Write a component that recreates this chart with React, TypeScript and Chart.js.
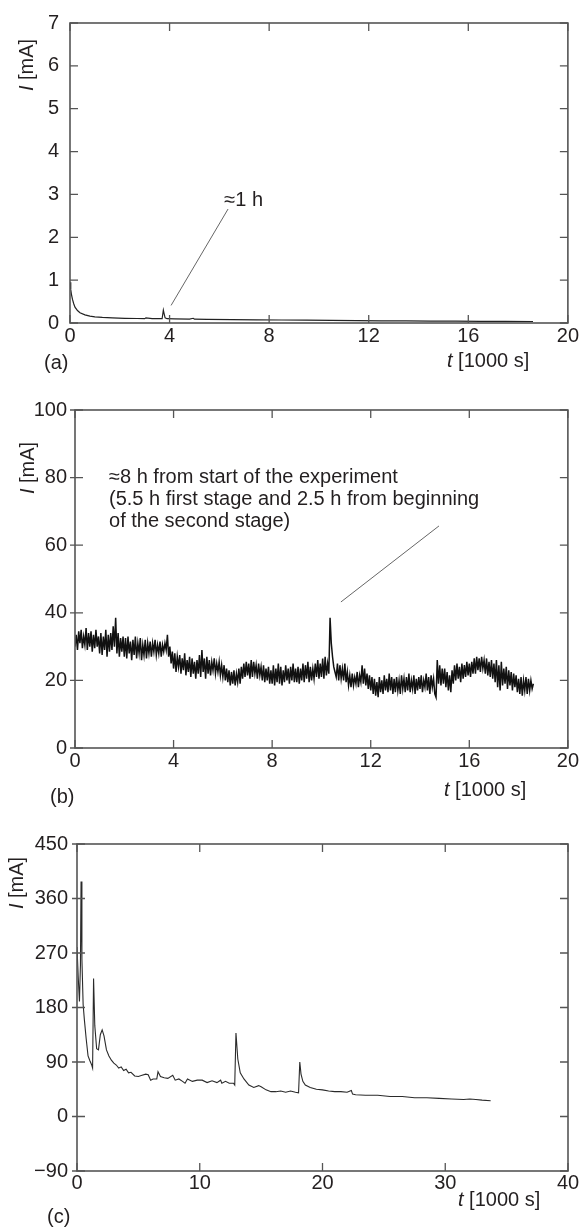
import React, { useEffect, useRef } from 'react';
import { Chart, registerables } from 'chart.js';

Chart.register(...registerables);

const FONT = '"Liberation Sans", Arial, Helvetica, sans-serif';
const FONT_SIZE = 20;
const INK = '#231f20';
const FRAME = '#555555';

// ---------- Panel (a) ----------
const A_TIME = [0, 0.03, 0.06, 0.1, 0.15, 0.2, 0.3, 0.4, 0.6, 0.8, 1.0, 1.3, 1.7, 2.2, 2.7, 3.0, 3.05, 3.3, 3.7, 3.75, 3.78, 3.82, 3.9, 4.2, 4.8, 4.95, 5.0, 5.5, 6.5, 7.5, 8.5, 9.5, 10.5, 11.5, 12.5, 13.5, 14.5, 15.5, 16.5, 17.5, 18.6];
const A_CURRENT = [0.95, 0.78, 0.66, 0.55, 0.45, 0.37, 0.29, 0.24, 0.19, 0.16, 0.145, 0.13, 0.12, 0.11, 0.105, 0.1, 0.12, 0.1, 0.1, 0.3, 0.22, 0.12, 0.1, 0.095, 0.09, 0.11, 0.09, 0.085, 0.08, 0.075, 0.07, 0.065, 0.06, 0.055, 0.05, 0.048, 0.045, 0.042, 0.04, 0.038, 0.035];
const A_X_TICKS = [0, 4, 8, 12, 16, 20];
const A_Y_TICKS = [0, 1, 2, 3, 4, 5, 6, 7];

// ---------- Panel (b) ----------
const B_T_START = 0;
const B_T_STEP = 0.05; // sampling interval, 1000 s
const B_CURRENT = [
  30, 33.5, 29, 34.5, 31, 35, 29.5, 33, 30.5, 35.5, 29, 34, 30, 34.5, 28.5, 33.5, 29.5, 35, 30, 33,
  28, 34, 27.5, 33, 29, 35, 27, 33.5, 28.5, 34, 29, 36, 30, 38.5, 28, 34, 27, 32.5, 28.5, 33,
  27, 32.5, 26.5, 33, 28, 31.5, 26, 32, 27.5, 33, 26.5, 31, 28, 32.5, 26, 30.5, 27.5, 32, 26.5, 31,
  28, 31.5, 27, 31, 28.5, 32, 27.5, 30.5, 28, 31.5, 27, 30.5, 28.5, 31, 29, 33.5, 27, 30, 25, 28.5,
  23.5, 28, 22.5, 27, 24, 27.5, 22, 26.5, 23, 28, 21.5, 26, 22.5, 27, 21, 26.5, 22, 25.5, 20.5, 26,
  22, 27.5, 21, 29, 22.5, 26.5, 20.5, 27, 22, 26, 21.5, 25.5, 23, 26.5, 22, 25, 22.5, 25.5, 21.5, 24.5,
  21, 24.5, 20, 23.5, 19.5, 23, 18.5, 22.5, 19, 23, 18.5, 22, 19.5, 23.5, 19, 24, 20.5, 25, 21, 25.5,
  21.5, 25, 20.5, 26, 21, 25.5, 22, 24.5, 20.5, 25, 21.5, 24, 20, 24.5, 19.5, 23.5, 20, 24, 19, 23,
  19, 24.5, 18.5, 23.5, 19.5, 25, 19, 24, 18.5, 23, 19.5, 24.5, 20, 23.5, 19, 24, 20, 25, 19.5, 23.5,
  19.5, 24, 19, 23.5, 20, 25, 19.5, 24.5, 20.5, 25.5, 19.5, 24, 20, 23.5, 20.5, 25, 21, 26, 20.5, 25,
  21, 26.5, 20.5, 27, 21.5, 25, 22, 38.5, 31, 27, 24, 22.5, 21, 25, 20, 24.5, 20.5, 23.5, 20, 25,
  19.5, 22.5, 18.5, 21.5, 18, 22, 18.5, 21, 19, 22.5, 18, 21.5, 19.5, 24.5, 19, 23.5, 18.5, 22, 17.5, 21.5,
  17, 21, 16, 20.5, 15.5, 19.5, 15, 21, 16.5, 20, 16, 21.5, 17, 20.5, 16.5, 22, 17, 21, 16, 20.5,
  16.5, 21, 17, 20, 16, 21.5, 17.5, 20.5, 16.5, 21, 17, 22, 16.5, 20, 17.5, 21.5, 16, 20.5, 17, 21,
  17.5, 21.5, 16.5, 20, 18, 22, 17, 21, 16, 21.5, 18, 20.5, 16, 15, 26, 19, 24.5, 18.5, 23.5, 19,
  23.5, 18, 22.5, 17, 21.5, 16.5, 23, 19, 24.5, 20, 25, 20.5, 24, 19.5, 25, 20.5, 24.5, 21, 25.5, 21.5,
  25, 21, 25.5, 22, 26.5, 22, 27, 23, 26.5, 22.5, 27, 23.5, 26, 22, 26.5, 21.5, 25.5, 21, 26, 20.5,
  25, 19.5, 26, 18, 24.5, 17, 25.5, 18.5, 23.5, 19, 24, 17.5, 23, 18.5, 22.5, 17, 22, 18, 21.5, 16.5,
  20.5, 16, 21, 15.5, 20, 17, 21, 16, 20.5, 17, 20, 17.5, 19,
];
const B_X_TICKS = [0, 4, 8, 12, 16, 20];
const B_Y_TICKS = [0, 20, 40, 60, 80, 100];

// ---------- Panel (c) ----------
const C_TIME = [0, 0.1, 0.2, 0.28, 0.33, 0.4, 0.5, 0.6, 0.75, 0.9, 1.05, 1.2, 1.27, 1.35, 1.45, 1.6, 1.75, 1.9, 2.05, 2.2, 2.4, 2.6, 2.8, 3.0, 3.2, 3.4, 3.6, 3.8, 4.0, 4.2, 4.4, 4.7, 5.0, 5.3, 5.6, 5.8, 6.0, 6.2, 6.5, 6.6, 6.8, 7.1, 7.4, 7.8, 8.0, 8.3, 8.6, 8.8, 9.0, 9.4, 9.8, 10.2, 10.6, 11.0, 11.4, 11.7, 11.8, 12.1, 12.4, 12.75, 12.85, 12.95, 13.1, 13.3, 13.6, 14.0, 14.4, 14.8, 15.0, 15.4, 15.8, 16.2, 16.6, 17.0, 17.4, 17.8, 18.05, 18.15, 18.25, 18.4, 18.6, 19.0, 19.5, 20.0, 20.5, 21.0, 21.5, 22.0, 22.35, 22.45, 22.7, 23.5, 24.5, 25.5, 26.5, 27.5, 28.5, 29.5, 30.5, 31.5, 32.0, 32.5, 33.0, 33.7];
const C_CURRENT = [280, 230, 190, 250, 388, 260, 185, 160, 128, 100, 92, 85, 80, 228, 150, 112, 110, 135, 143, 133, 110, 100, 93, 88, 85, 80, 82, 76, 78, 72, 73, 67, 66, 68, 70, 69, 60, 62, 62, 74, 66, 64, 63, 68, 60, 62, 58, 55, 62, 58, 60, 60, 56, 59, 56, 60, 55, 58, 55, 55, 52, 138, 95, 72, 62, 52, 48, 51, 49, 44, 41, 41, 42, 40, 42, 40, 39, 90, 70, 58, 52, 48, 45, 44, 42, 41, 41, 40, 43, 37, 36, 35, 35, 33, 33, 31, 31, 30, 29, 28, 29, 28, 27, 26];
const C_X_TICKS = [0, 10, 20, 30, 40];
const C_Y_TICKS = [-90, 0, 90, 180, 270, 360, 450];

const Y_TITLE = [{ text: 'I', italic: true }, { text: ' [mA]', italic: false }];
const T_TITLE = [{ text: 't', italic: true }, { text: ' [1000 s]', italic: false }];
const A_NOTE = ['\u22481 h'];
const B_NOTE = [
  '\u22488 h from start of the experiment',
  '(5.5 h first stage and 2.5 h from beginning',
  'of the second stage)',
];

type Part = { text: string; italic: boolean };

function drawParts(ctx: CanvasRenderingContext2D, parts: Part[], x: number, y: number, center: boolean) {
  const widths = parts.map((p) => {
    ctx.font = `${p.italic ? 'italic ' : ''}${FONT_SIZE}px ${FONT}`;
    return ctx.measureText(p.text).width;
  });
  const total = widths.reduce((s, w) => s + w, 0);
  let cx = center ? x - total / 2 : x;
  ctx.textAlign = 'left';
  ctx.textBaseline = 'middle';
  parts.forEach((p, i) => {
    ctx.font = `${p.italic ? 'italic ' : ''}${FONT_SIZE}px ${FONT}`;
    ctx.fillText(p.text, cx, y);
    cx += widths[i];
  });
}

const framePlugin = {
  id: 'frame',
  afterDatasetsDraw(chart: any, _args: any, o: any) {
    const { ctx, chartArea: a, scales } = chart;
    const xs = scales.x;
    const ys = scales.y;
    ctx.save();
    ctx.strokeStyle = FRAME;
    ctx.lineWidth = 1.6;
    ctx.strokeRect(a.left, a.top, a.right - a.left, a.bottom - a.top);
    ctx.lineWidth = 1.3;
    ctx.beginPath();
    const L = 8;
    xs.ticks.forEach((t: any) => {
      const p = xs.getPixelForValue(t.value);
      ctx.moveTo(p, a.bottom);
      ctx.lineTo(p, a.bottom - L);
      ctx.moveTo(p, a.top);
      ctx.lineTo(p, a.top + L);
    });
    ys.ticks.forEach((t: any) => {
      const p = ys.getPixelForValue(t.value);
      ctx.moveTo(a.left - o.tickOut, p);
      ctx.lineTo(a.left + L, p);
      ctx.moveTo(a.right, p);
      ctx.lineTo(a.right - L, p);
    });
    ctx.stroke();

    if (o.pointer) {
      const [x1, y1, x2, y2] = o.pointer;
      ctx.strokeStyle = '#666';
      ctx.lineWidth = 1;
      ctx.beginPath();
      ctx.moveTo(xs.getPixelForValue(x1), ys.getPixelForValue(y1));
      ctx.lineTo(xs.getPixelForValue(x2), ys.getPixelForValue(y2));
      ctx.stroke();
    }

    ctx.fillStyle = INK;
    if (o.note) {
      const nx = xs.getPixelForValue(o.note.t);
      const ny = ys.getPixelForValue(o.note.v);
      o.note.lines.forEach((line: string, i: number) => {
        drawParts(ctx, [{ text: line, italic: false }], nx, ny + i * 22, false);
      });
    }
    ctx.save();
    ctx.translate(o.yTitle.x, o.yTitle.y);
    ctx.rotate(-Math.PI / 2);
    drawParts(ctx, Y_TITLE, 0, 0, true);
    ctx.restore();
    drawParts(ctx, T_TITLE, o.tTitle.x, a.bottom + o.tTitle.dy, false);
    drawParts(ctx, [{ text: o.tag.text, italic: false }], o.tag.x, a.bottom + o.tag.dy, false);
    ctx.restore();
  },
};

type PanelDef = {
  time: number[];
  current: number[];
  xTicks: number[];
  yTicks: number[];
  height: number;
  padTop: number;
  yWidth: number;
  xHeight: number;
  yPad: number;
  xPad: number;
  lineWidth: number;
  lineColor: string;
  frame: any;
};

function buildChart(canvas: HTMLCanvasElement, p: PanelDef) {
  const data = p.time.map((t, i) => ({ x: t, y: p.current[i] }));
  const fmt = (v: number) => (v < 0 ? '\u2212' + Math.abs(v) : String(v));
  return new Chart(canvas, {
    type: 'line',
    data: {
      datasets: [
        {
          data,
          borderColor: p.lineColor,
          borderWidth: p.lineWidth,
          pointRadius: 0,
          tension: 0,
          fill: false,
        },
      ],
    },
    options: {
      animation: false,
      responsive: false,
      events: [],
      layout: { padding: { top: p.padTop, right: 12, left: 0, bottom: 0 } },
      plugins: {
        legend: { display: false },
        tooltip: { enabled: false },
        frame: p.frame,
      } as any,
      scales: {
        x: {
          type: 'linear',
          min: p.xTicks[0],
          max: p.xTicks[p.xTicks.length - 1],
          afterBuildTicks: (s: any) => {
            s.ticks = p.xTicks.map((v) => ({ value: v }));
          },
          afterFit: (s: any) => {
            s.height = p.xHeight;
          },
          grid: { display: false, drawTicks: false },
          border: { display: false },
          ticks: {
            autoSkip: false,
            maxRotation: 0,
            padding: p.xPad,
            color: INK,
            font: { family: FONT, size: FONT_SIZE },
            callback: (v: any) => fmt(Number(v)),
          },
        },
        y: {
          type: 'linear',
          min: p.yTicks[0],
          max: p.yTicks[p.yTicks.length - 1],
          afterBuildTicks: (s: any) => {
            s.ticks = p.yTicks.map((v) => ({ value: v }));
          },
          afterFit: (s: any) => {
            s.width = p.yWidth;
          },
          grid: { display: false, drawTicks: false },
          border: { display: false },
          ticks: {
            autoSkip: false,
            padding: p.yPad,
            color: INK,
            font: { family: FONT, size: FONT_SIZE },
            callback: (v: any) => fmt(Number(v)),
          },
        },
      },
    },
    plugins: [framePlugin],
  } as any);
}

const PANEL_A: PanelDef = {
  time: A_TIME,
  current: A_CURRENT,
  xTicks: A_X_TICKS,
  yTicks: A_Y_TICKS,
  height: 380,
  padTop: 13,
  yWidth: 70,
  xHeight: 57,
  yPad: 11,
  xPad: 1,
  lineWidth: 1.2,
  lineColor: '#222',
  frame: {
    tickOut: 0,
    yTitle: { x: 27, y: 65 },
    tTitle: { x: 447, dy: 38 },
    tag: { text: '(a)', x: 44, dy: 40 },
    note: { lines: A_NOTE, t: 6.2, v: 2.85 },
    pointer: [4.06, 0.41, 6.35, 2.66],
  },
};

const PANEL_B: PanelDef = {
  time: B_CURRENT.map((_, i) => +(B_T_START + i * B_T_STEP).toFixed(2)),
  current: B_CURRENT,
  xTicks: B_X_TICKS,
  yTicks: B_Y_TICKS,
  height: 425,
  padTop: 25,
  yWidth: 75,
  xHeight: 62,
  yPad: 8,
  xPad: 1,
  lineWidth: 1.5,
  lineColor: '#111',
  frame: {
    tickOut: 5,
    yTitle: { x: 28, y: 83 },
    tTitle: { x: 444, dy: 42 },
    tag: { text: '(b)', x: 50, dy: 49 },
    note: { lines: B_NOTE, t: 1.38, v: 80 },
    pointer: [14.77, 65.7, 10.79, 43.2],
  },
};

const PANEL_C: PanelDef = {
  time: C_TIME,
  current: C_CURRENT,
  xTicks: C_X_TICKS,
  yTicks: C_Y_TICKS,
  height: 416,
  padTop: 29,
  yWidth: 77,
  xHeight: 60,
  yPad: 9,
  xPad: 0,
  lineWidth: 1.1,
  lineColor: '#2a2a2a',
  frame: {
    tickOut: 5,
    yTitle: { x: 17, y: 68 },
    tTitle: { x: 458, dy: 29 },
    tag: { text: '(c)', x: 47, dy: 46 },
    note: null,
    pointer: null,
  },
};

const PANELS = [
  { def: PANEL_A, top: 0 },
  { def: PANEL_B, top: 385 },
  { def: PANEL_C, top: 815 },
];

export default function App() {
  const refs = [useRef<HTMLCanvasElement>(null), useRef<HTMLCanvasElement>(null), useRef<HTMLCanvasElement>(null)];
  useEffect(() => {
    const charts = PANELS.map((p, i) => buildChart(refs[i].current as HTMLCanvasElement, p.def));
    return () => charts.forEach((c) => c.destroy());
  }, []);
  return (
    <div style={{ position: 'absolute', left: 0, top: 0, width: 580, height: 1231, background: '#fff' }}>
      {PANELS.map((p, i) => (
        <canvas
          key={i}
          ref={refs[i]}
          width={580}
          height={p.def.height}
          style={{ position: 'absolute', left: 0, top: p.top, width: 580, height: p.def.height }}
        />
      ))}
    </div>
  );
}
